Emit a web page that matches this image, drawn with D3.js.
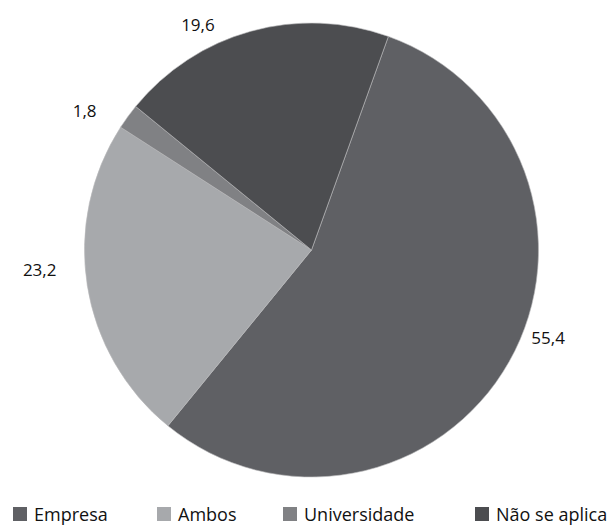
<!DOCTYPE html>
<html>
<head>
<meta charset="utf-8">
<script src="https://cdn.jsdelivr.net/npm/d3@7"></script>
<style>
  html, body { margin: 0; padding: 0; background: #fff; }
  svg { display: block; }
</style>
</head>
<body>
<svg id="chart" width="611" height="527"></svg>
<script>
// ---- data ----
const categories = ["Empresa", "Ambos", "Universidade", "Não se aplica"];
const values = [55.4, 23.2, 1.8, 19.6];
const valueLabels = ["55,4", "23,2", "1,8", "19,6"];

// ---- style / layout ----
const colors = ["#5f6064", "#a7a9ac", "#808184", "#4c4d50"];
const labelNudge = [[13, -39], [-18, -20], [-19, 12], [-45, 23]];
const legendX = [13, 157, 283, 475];

const W = 611, H = 527;
const cx = 311.5, cy = 250, R = 227;
const startDeg = 19.8;

const svg = d3.select("#chart");
const g = svg.append("g").attr("transform", `translate(${cx},${cy})`);

const data = categories.map((c, i) => ({ name: c, value: values[i], label: valueLabels[i], i }));

const pie = d3.pie()
  .sort(null)
  .value(d => d.value)
  .startAngle(startDeg * Math.PI / 180)
  .endAngle((startDeg + 360) * Math.PI / 180);

const arcs = pie(data);
const arc = d3.arc().innerRadius(0).outerRadius(R);

g.selectAll("path.slice")
  .data(arcs)
  .join("path")
  .attr("class", "slice")
  .attr("d", arc)
  .attr("fill", d => colors[d.data.i])
  .attr("stroke", "#b8b9bb")
  .attr("stroke-width", 0.6);

const labelArc = d3.arc().innerRadius(R + 30).outerRadius(R + 30);
g.selectAll("text.vlabel")
  .data(arcs)
  .join("text")
  .attr("class", "vlabel")
  .attr("x", d => labelArc.centroid(d)[0] + labelNudge[d.data.i][0])
  .attr("y", d => labelArc.centroid(d)[1] + labelNudge[d.data.i][1])
  .attr("dy", "0.35em")
  .attr("text-anchor", "middle")
  .attr("font-family", "'Open Sans', sans-serif")
  .attr("font-size", 17)
  .attr("fill", "#111")
  .text(d => d.data.label);

// legend
const legend = svg.append("g");
const items = legend.selectAll("g.item")
  .data(data)
  .join("g")
  .attr("class", "item")
  .attr("transform", d => `translate(${legendX[d.i]},507)`);
items.append("rect")
  .attr("width", 14).attr("height", 14)
  .attr("fill", d => colors[d.i]);
items.append("text")
  .attr("x", 21)
  .attr("y", 14)
  .attr("font-family", "'Open Sans', sans-serif")
  .attr("font-size", 18)
  .attr("fill", "#111")
  .text(d => d.name);
</script>
</body>
</html>
